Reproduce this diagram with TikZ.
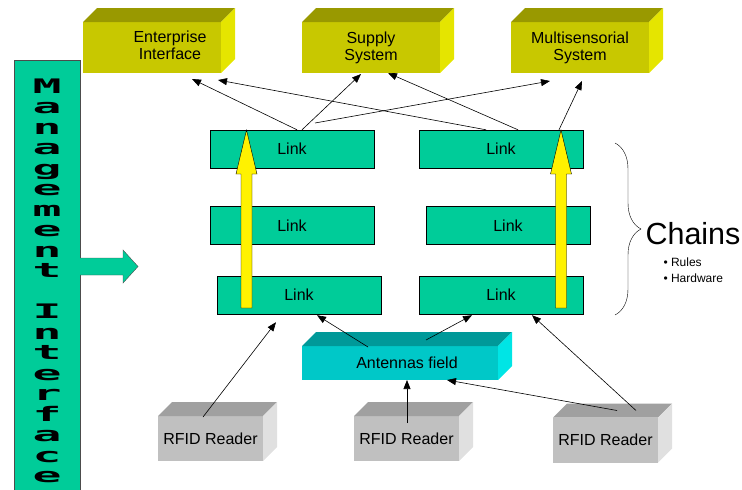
\documentclass[tikz,border=0pt]{standalone}
\usepackage{fontspec}
\setmainfont{Liberation Sans}
\newfontfamily\mgmtfont[FakeStretch=2.4]{DejaVu Sans Mono}
\definecolor{linkGreen}{HTML}{00CC99}
\definecolor{sysFront}{HTML}{C8C800}
\definecolor{sysTop}{HTML}{999900}
\definecolor{sysSide}{HTML}{E5E500}
\definecolor{antFront}{HTML}{00C8C8}
\definecolor{antTop}{HTML}{009999}
\definecolor{antSide}{HTML}{00E5E5}
\definecolor{rfidFront}{HTML}{C0C0C0}
\definecolor{rfidTop}{HTML}{A0A0A0}
\definecolor{rfidSide}{HTML}{E0E0E0}
\usetikzlibrary{arrows.meta, positioning, decorations.pathreplacing}
\tikzset{
  link/.style={draw, thin, fill=linkGreen, minimum width=164, minimum height=38, inner sep=0pt},
  sysbox/.style={fill=sysFront, minimum width=138, minimum height=51, inner sep=0pt, outer sep=0pt, align=center},
  antbox/.style={fill=antFront, minimum width=196, minimum height=34, inner sep=0pt, outer sep=0pt},
  rfidbox/.style={fill=rfidFront, minimum width=105, minimum height=45, inner sep=0pt, outer sep=0pt},
  conn/.style={-{Triangle[length=9pt,width=7pt]}, line width=0.6pt},
  yarrow/.style={fill=yellow, draw, thin},
  garrow/.style={fill=linkGreen, draw=black!70, thin}
}
% top and right faces of a box
\newcommand{\boxsides}[3]{%
  \fill[#2] (#1.north west) -- ([shift={(14,-14)}]#1.north west) -- ([shift={(14,-14)}]#1.north east) -- (#1.north east) -- cycle;
  \fill[#3] (#1.north east) -- ([shift={(14,-14)}]#1.north east) -- ([shift={(14,-14)}]#1.south east) -- (#1.south east) -- cycle;
}
\begin{document}
\begin{tikzpicture}[x=1pt, y=-1pt, font=\fontsize{16}{17}\selectfont]
\useasboundingbox (0,0) rectangle (742,490);
% management interface
\node[draw=black!70, thin, fill=linkGreen, minimum width=66, minimum height=442, inner sep=0pt, align=center,
  font={\mgmtfont\bfseries\fontsize{20}{20.5}\selectfont}] (mi) at (47,281)
  {M\\a\\n\\a\\g\\e\\m\\e\\n\\t\\[20.5pt]I\\n\\t\\e\\r\\f\\a\\c\\e};
\draw[garrow] (80,258) -- (123,258) -- (123,250) -- (138,266.5) -- (123,283) -- (123,275) -- (80,275);
% systems
\node[sysbox] (ei) at (152,47.5) {};
\node[sysbox] (ss) at (371,47.5) {Supply\\System};
\node[sysbox] (ms) at (580,47.5) {Multisensorial\\System};
\boxsides{ei}{sysTop}{sysSide}
\boxsides{ss}{sysTop}{sysSide}
\boxsides{ms}{sysTop}{sysSide}
\node[align=center] (eiT) at ([shift={(18,-2)}]ei.center) {Enterprise\\Interface};
% chains of links
\node[link] (ch1a) at (292,149) {Link};
\node[link] (ch1b) at (292,225.5) {Link};
\node[link] (ch1c) at (299,295) {Link};
\node[link] (ch2a) at (501,149) {Link};
\node[link] (ch2b) at (508,225.5) {Link};
\node[link] (ch2c) at (501,295) {Link};
\foreach \c in {246.5,561}
  \draw[yarrow] (\c-5.5,308) -- (\c-5.5,174) -- (\c-10.5,174) -- (\c,130) -- (\c+10.5,174) -- (\c+5.5,174) -- (\c+5.5,308) -- cycle;
% antennas and readers
\node[antbox] (af) at (400,363) {};
\boxsides{af}{antTop}{antSide}
\node at ([xshift=7pt]af.center) {Antennas field};
\node[rfidbox] (rr1) at (210.5,438.5) {RFID Reader};
\node[rfidbox] (rr2) at (406.5,438.5) {RFID Reader};
\node[rfidbox] (rr3) at (605.5,440) {RFID Reader};
\boxsides{rr1}{rfidTop}{rfidSide}
\boxsides{rr2}{rfidTop}{rfidSide}
\boxsides{rr3}{rfidTop}{rfidSide}
% connectors
\coordinate (cross) at (315,123);
\draw[conn] ([shift={(5,0)}]ch1a.north) -- ([shift={(40,6)}]ei.south);
\draw[conn] ([shift={(-15,0)}]ch2a.north) -- ([shift={(66,7)}]ei.south);
\draw[conn] ([shift={(10,0)}]ch1a.north) -- ([shift={(-10,1)}]ss.south);
\draw[conn] ([shift={(17,0)}]ch2a.north) -- ([shift={(17,0)}]ss.south);
\draw[conn] (cross) -- ([shift={(-30,8)}]ms.south);
\draw[conn] ([shift={(58,0)}]ch2a.north) -- ([shift={(2,8)}]ms.south);
\draw[conn] ([shift={(-7.5,1)}]rr1.north) -- ([shift={(-23,8)}]ch1c.south);
\draw[conn] ([shift={(-32,1)}]af.north) -- ([shift={(18,1)}]ch1c.south);
\draw[conn] ([shift={(26,-6)}]af.north) -- ([shift={(-29,1)}]ch2c.south);
\draw[conn] ([shift={(0.5,7)}]rr2.north) -- ([shift={(7,0)}]af.south);
\draw[conn] ([shift={(11.5,-7)}]rr3.north) -- ([shift={(47,0)}]af.south);
\draw[conn] ([shift={(30.5,-7)}]rr3.north) -- ([shift={(31,1)}]ch2c.south);
% chains brace
\draw[thin, decorate, decoration={brace, amplitude=26pt}] (615,143) -- (615,315);
\node[anchor=west, font=\fontsize{30.5}{34}\selectfont] (chains) at (642,234) {Chains};
\node[anchor=north west, align=left, font=\fontsize{12}{16}\selectfont] (bul) at (660,254) {•~Rules\\•~Hardware};
\end{tikzpicture}
\end{document}
